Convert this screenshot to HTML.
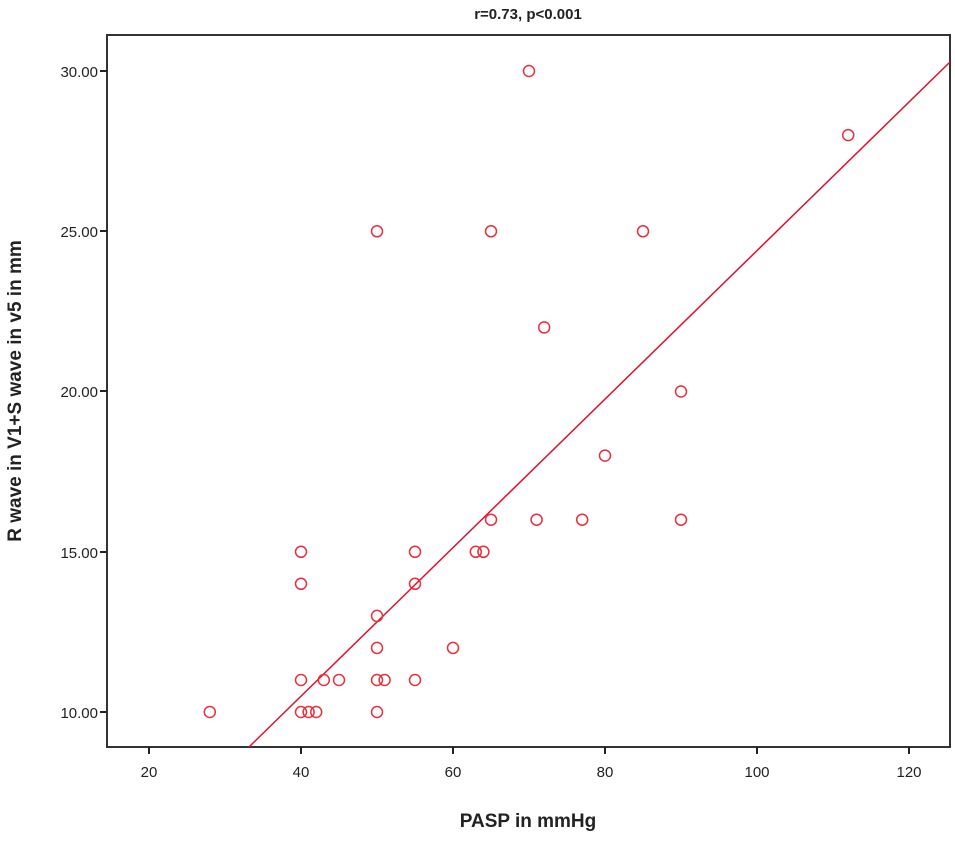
<!DOCTYPE html><html><head><style>body{margin:0;background:#fff}</style></head><body>
<svg width="955" height="840" xmlns="http://www.w3.org/2000/svg" font-family="Liberation Sans, sans-serif">
<rect width="955" height="840" fill="#fff"/>
<text x="528" y="19" text-anchor="middle" font-size="15" font-weight="bold" fill="#222">r=0.73, p&lt;0.001</text>
<rect x="107" y="35" width="843" height="712" fill="none" stroke="#333" stroke-width="2"/>
<g stroke="#222" stroke-width="2">
<line x1="100" y1="71" x2="107" y2="71"/><line x1="100" y1="231" x2="107" y2="231"/><line x1="100" y1="391" x2="107" y2="391"/><line x1="100" y1="552" x2="107" y2="552"/><line x1="100" y1="712" x2="107" y2="712"/>
<line x1="149" y1="747" x2="149" y2="754"/><line x1="301" y1="747" x2="301" y2="754"/><line x1="453" y1="747" x2="453" y2="754"/><line x1="605" y1="747" x2="605" y2="754"/><line x1="757" y1="747" x2="757" y2="754"/><line x1="909" y1="747" x2="909" y2="754"/>
</g>
<g font-size="15" fill="#222" text-anchor="end">
<text x="98" y="77">30.00</text><text x="98" y="237">25.00</text><text x="98" y="397">20.00</text><text x="98" y="558">15.00</text><text x="98" y="718">10.00</text>
</g>
<g font-size="15" fill="#222" text-anchor="middle">
<text x="149" y="777">20</text><text x="301" y="777">40</text><text x="453" y="777">60</text><text x="605" y="777">80</text><text x="757" y="777">100</text><text x="909" y="777">120</text>
</g>
<text x="528" y="827" text-anchor="middle" font-size="19" font-weight="bold" fill="#222">PASP in mmHg</text>
<text transform="translate(21,391) rotate(-90)" text-anchor="middle" font-size="19" font-weight="bold" fill="#222">R wave in V1+S wave in v5 in mm</text>
<line x1="249" y1="747" x2="950" y2="62" stroke="#e0102c" stroke-width="1.5"/>
<g fill="none" stroke="#e8303c" stroke-width="1.5">
<circle cx="209.8" cy="712" r="5.5"/>
<circle cx="301" cy="551.8" r="5.5"/>
<circle cx="301" cy="583.8" r="5.5"/>
<circle cx="301" cy="680" r="5.5"/>
<circle cx="301" cy="712" r="5.5"/>
<circle cx="308.6" cy="712" r="5.5"/>
<circle cx="316.2" cy="712" r="5.5"/>
<circle cx="323.8" cy="680" r="5.5"/>
<circle cx="339" cy="680" r="5.5"/>
<circle cx="377" cy="231.3" r="5.5"/>
<circle cx="377" cy="615.9" r="5.5"/>
<circle cx="377" cy="647.9" r="5.5"/>
<circle cx="377" cy="680" r="5.5"/>
<circle cx="377" cy="712" r="5.5"/>
<circle cx="384.6" cy="680" r="5.5"/>
<circle cx="415" cy="551.8" r="5.5"/>
<circle cx="415" cy="583.8" r="5.5"/>
<circle cx="415" cy="680" r="5.5"/>
<circle cx="453" cy="647.9" r="5.5"/>
<circle cx="475.8" cy="551.8" r="5.5"/>
<circle cx="483.4" cy="551.8" r="5.5"/>
<circle cx="491" cy="519.7" r="5.5"/>
<circle cx="491" cy="231.3" r="5.5"/>
<circle cx="529" cy="71" r="5.5"/>
<circle cx="536.6" cy="519.7" r="5.5"/>
<circle cx="544.2" cy="327.4" r="5.5"/>
<circle cx="582.2" cy="519.7" r="5.5"/>
<circle cx="605" cy="455.6" r="5.5"/>
<circle cx="643" cy="231.3" r="5.5"/>
<circle cx="681" cy="391.5" r="5.5"/>
<circle cx="681" cy="519.7" r="5.5"/>
<circle cx="848.2" cy="135.1" r="5.5"/>
</g>
</svg></body></html>
